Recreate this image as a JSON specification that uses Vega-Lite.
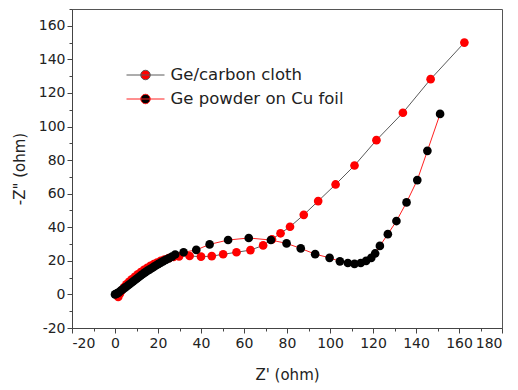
{
  "$schema": "https://vega.github.io/schema/vega-lite/v6.json",
  "width": 430,
  "height": 319,
  "autosize": {"type": "none"},
  "padding": {"left": 72, "top": 9, "right": 16, "bottom": 62},
  "config": {
    "font": "DejaVu Sans",
    "view": {"stroke": "#555", "strokeWidth": 1},
    "axis": {"grid": false, "domainColor": "#444", "tickColor": "#444", "labelColor": "#222", "titleColor": "#222", "labelFontSize": 14, "titleFontSize": 15, "titleFontWeight": "normal"}
  },
  "data": {"values": [
    {"s": "Ge/carbon cloth", "zr": 1.5, "zi": -1.5},
    {"s": "Ge/carbon cloth", "zr": 2.3, "zi": 0.5},
    {"s": "Ge/carbon cloth", "zr": 3.2, "zi": 2.5},
    {"s": "Ge/carbon cloth", "zr": 4.2, "zi": 4.3},
    {"s": "Ge/carbon cloth", "zr": 5.3, "zi": 6},
    {"s": "Ge/carbon cloth", "zr": 6.5, "zi": 7.5},
    {"s": "Ge/carbon cloth", "zr": 7.8, "zi": 9},
    {"s": "Ge/carbon cloth", "zr": 9.2, "zi": 10.5},
    {"s": "Ge/carbon cloth", "zr": 10.6, "zi": 12},
    {"s": "Ge/carbon cloth", "zr": 12, "zi": 13.3},
    {"s": "Ge/carbon cloth", "zr": 13.5, "zi": 14.6},
    {"s": "Ge/carbon cloth", "zr": 15, "zi": 15.8},
    {"s": "Ge/carbon cloth", "zr": 16.5, "zi": 17},
    {"s": "Ge/carbon cloth", "zr": 18, "zi": 18},
    {"s": "Ge/carbon cloth", "zr": 19.6, "zi": 19},
    {"s": "Ge/carbon cloth", "zr": 21.3, "zi": 20},
    {"s": "Ge/carbon cloth", "zr": 23, "zi": 20.8},
    {"s": "Ge/carbon cloth", "zr": 25, "zi": 21.6},
    {"s": "Ge/carbon cloth", "zr": 27.2, "zi": 22.3},
    {"s": "Ge/carbon cloth", "zr": 29.8, "zi": 22.6},
    {"s": "Ge/carbon cloth", "zr": 34.7, "zi": 22.9},
    {"s": "Ge/carbon cloth", "zr": 40, "zi": 22.5},
    {"s": "Ge/carbon cloth", "zr": 45, "zi": 22.8},
    {"s": "Ge/carbon cloth", "zr": 50.3, "zi": 23.9},
    {"s": "Ge/carbon cloth", "zr": 56.5, "zi": 25.1},
    {"s": "Ge/carbon cloth", "zr": 63, "zi": 26.4},
    {"s": "Ge/carbon cloth", "zr": 68.9, "zi": 29.2},
    {"s": "Ge/carbon cloth", "zr": 73, "zi": 32.8},
    {"s": "Ge/carbon cloth", "zr": 77, "zi": 36.4},
    {"s": "Ge/carbon cloth", "zr": 81.4, "zi": 40.3},
    {"s": "Ge/carbon cloth", "zr": 87.8, "zi": 47.4},
    {"s": "Ge/carbon cloth", "zr": 94.5, "zi": 55.6},
    {"s": "Ge/carbon cloth", "zr": 102.6, "zi": 65.5},
    {"s": "Ge/carbon cloth", "zr": 111.4, "zi": 76.8},
    {"s": "Ge/carbon cloth", "zr": 121.6, "zi": 91.9},
    {"s": "Ge/carbon cloth", "zr": 133.9, "zi": 108.2},
    {"s": "Ge/carbon cloth", "zr": 146.8, "zi": 128.2},
    {"s": "Ge/carbon cloth", "zr": 162.5, "zi": 150},
    {"s": "Ge powder on Cu foil", "zr": 0, "zi": 0},
    {"s": "Ge powder on Cu foil", "zr": 0.6, "zi": 0.3},
    {"s": "Ge powder on Cu foil", "zr": 1.2, "zi": 0.8},
    {"s": "Ge powder on Cu foil", "zr": 1.8, "zi": 1.3},
    {"s": "Ge powder on Cu foil", "zr": 2.5, "zi": 2},
    {"s": "Ge powder on Cu foil", "zr": 3.2, "zi": 2.7},
    {"s": "Ge powder on Cu foil", "zr": 4, "zi": 3.4},
    {"s": "Ge powder on Cu foil", "zr": 4.8, "zi": 4.2},
    {"s": "Ge powder on Cu foil", "zr": 5.7, "zi": 5},
    {"s": "Ge powder on Cu foil", "zr": 6.6, "zi": 5.9},
    {"s": "Ge powder on Cu foil", "zr": 7.5, "zi": 6.8},
    {"s": "Ge powder on Cu foil", "zr": 8.4, "zi": 7.7},
    {"s": "Ge powder on Cu foil", "zr": 9.3, "zi": 8.6},
    {"s": "Ge powder on Cu foil", "zr": 10.2, "zi": 9.5},
    {"s": "Ge powder on Cu foil", "zr": 11.1, "zi": 10.4},
    {"s": "Ge powder on Cu foil", "zr": 12, "zi": 11.3},
    {"s": "Ge powder on Cu foil", "zr": 13, "zi": 12.2},
    {"s": "Ge powder on Cu foil", "zr": 14, "zi": 13.1},
    {"s": "Ge powder on Cu foil", "zr": 15, "zi": 14},
    {"s": "Ge powder on Cu foil", "zr": 16, "zi": 14.8},
    {"s": "Ge powder on Cu foil", "zr": 17, "zi": 15.6},
    {"s": "Ge powder on Cu foil", "zr": 18, "zi": 16.4},
    {"s": "Ge powder on Cu foil", "zr": 19, "zi": 17.2},
    {"s": "Ge powder on Cu foil", "zr": 20, "zi": 18},
    {"s": "Ge powder on Cu foil", "zr": 21.1, "zi": 18.8},
    {"s": "Ge powder on Cu foil", "zr": 22.3, "zi": 19.7},
    {"s": "Ge powder on Cu foil", "zr": 23.6, "zi": 20.6},
    {"s": "Ge powder on Cu foil", "zr": 25, "zi": 21.5},
    {"s": "Ge powder on Cu foil", "zr": 26.5, "zi": 22.5},
    {"s": "Ge powder on Cu foil", "zr": 28, "zi": 23.8},
    {"s": "Ge powder on Cu foil", "zr": 31.9, "zi": 25.1},
    {"s": "Ge powder on Cu foil", "zr": 37.8, "zi": 26.5},
    {"s": "Ge powder on Cu foil", "zr": 44, "zi": 29.8},
    {"s": "Ge powder on Cu foil", "zr": 52.6, "zi": 32.4},
    {"s": "Ge powder on Cu foil", "zr": 62.2, "zi": 33.6},
    {"s": "Ge powder on Cu foil", "zr": 72.5, "zi": 32.4},
    {"s": "Ge powder on Cu foil", "zr": 79.8, "zi": 30.4},
    {"s": "Ge powder on Cu foil", "zr": 86.4, "zi": 27.4},
    {"s": "Ge powder on Cu foil", "zr": 93.1, "zi": 24},
    {"s": "Ge powder on Cu foil", "zr": 99.8, "zi": 21.8},
    {"s": "Ge powder on Cu foil", "zr": 104.6, "zi": 19.7},
    {"s": "Ge powder on Cu foil", "zr": 108.3, "zi": 18.7},
    {"s": "Ge powder on Cu foil", "zr": 111.4, "zi": 18.2},
    {"s": "Ge powder on Cu foil", "zr": 114.3, "zi": 18.7},
    {"s": "Ge powder on Cu foil", "zr": 116.8, "zi": 20},
    {"s": "Ge powder on Cu foil", "zr": 119.2, "zi": 21.8},
    {"s": "Ge powder on Cu foil", "zr": 121, "zi": 24.4},
    {"s": "Ge powder on Cu foil", "zr": 123.2, "zi": 28.9},
    {"s": "Ge powder on Cu foil", "zr": 126.9, "zi": 35.9},
    {"s": "Ge powder on Cu foil", "zr": 130.9, "zi": 43.7},
    {"s": "Ge powder on Cu foil", "zr": 135.6, "zi": 54.8},
    {"s": "Ge powder on Cu foil", "zr": 140.6, "zi": 68.1},
    {"s": "Ge powder on Cu foil", "zr": 145.3, "zi": 85.5},
    {"s": "Ge powder on Cu foil", "zr": 151.2, "zi": 107.5}
  ]},
  "layer": [
    {
      "mark": {"type": "line", "strokeWidth": 1},
      "encoding": {
        "x": {"field": "zr", "type": "quantitative",
          "scale": {"domain": [-20, 180], "nice": false, "zero": false},
          "axis": {"orient": "bottom", "values": [-20, 0, 20, 40, 60, 80, 100, 120, 140, 160, 180], "tickSize": 5, "labelPadding": 3, "labelExpr": "'' + datum.value", "title": "Z' (ohm)", "titlePadding": 17}},
        "y": {"field": "zi", "type": "quantitative",
          "scale": {"domain": [-20, 170], "nice": false, "zero": false},
          "axis": {"orient": "left", "values": [-20, 0, 20, 40, 60, 80, 100, 120, 140, 160], "tickSize": 5, "labelPadding": 2, "labelExpr": "'' + datum.value", "title": "-Z\" (ohm)", "titlePadding": 11}},
        "stroke": {"field": "s", "type": "nominal",
          "scale": {"domain": ["Ge/carbon cloth", "Ge powder on Cu foil"], "range": ["#5a5a5a", "#ff2020"]},
          "legend": {"title": null, "orient": "none", "legendX": 54, "legendY": 54, "padding": 0, "rowPadding": 0, "clipHeight": 24, "symbolType": "M-1,0L1,0M-0.25,0A0.25,0.25,0,1,0,0.25,0A0.25,0.25,0,1,0,-0.25,0Z", "symbolSize": 1444, "symbolStrokeWidth": 1, "symbolOpacity": 1, "labelFontSize": 16.5, "labelOffset": 5.5, "labelLimit": 300, "labelColor": "#222"}},
        "order": {"value": null}
      }
    },
    {
      "mark": {"type": "point", "filled": true, "size": 75, "opacity": 1, "strokeWidth": 0},
      "encoding": {
        "x": {"field": "zr", "type": "quantitative",
          "axis": {"orient": "bottom", "values": [-10, 10, 30, 50, 70, 90, 110, 130, 150, 170], "tickSize": 3, "labels": false, "domain": false, "title": null}},
        "y": {"field": "zi", "type": "quantitative",
          "axis": {"orient": "left", "values": [-10, 10, 30, 50, 70, 90, 110, 130, 150, 170], "tickSize": 3, "labels": false, "domain": false, "title": null}},
        "fill": {"field": "s", "type": "nominal",
          "scale": {"domain": ["Ge/carbon cloth", "Ge powder on Cu foil"], "range": ["#ff0000", "#000000"]},
          "legend": {"title": null, "orient": "none", "legendX": 54, "legendY": 54, "padding": 0, "rowPadding": 0, "clipHeight": 24, "symbolType": "M-1,0L1,0M-0.25,0A0.25,0.25,0,1,0,0.25,0A0.25,0.25,0,1,0,-0.25,0Z", "symbolSize": 1444, "symbolStrokeWidth": 1, "symbolOpacity": 1, "labelFontSize": 16.5, "labelOffset": 5.5, "labelLimit": 300, "labelColor": "#222"}}
      }
    }
  ],
  "resolve": {"axis": {"x": "independent", "y": "independent"}}
}
